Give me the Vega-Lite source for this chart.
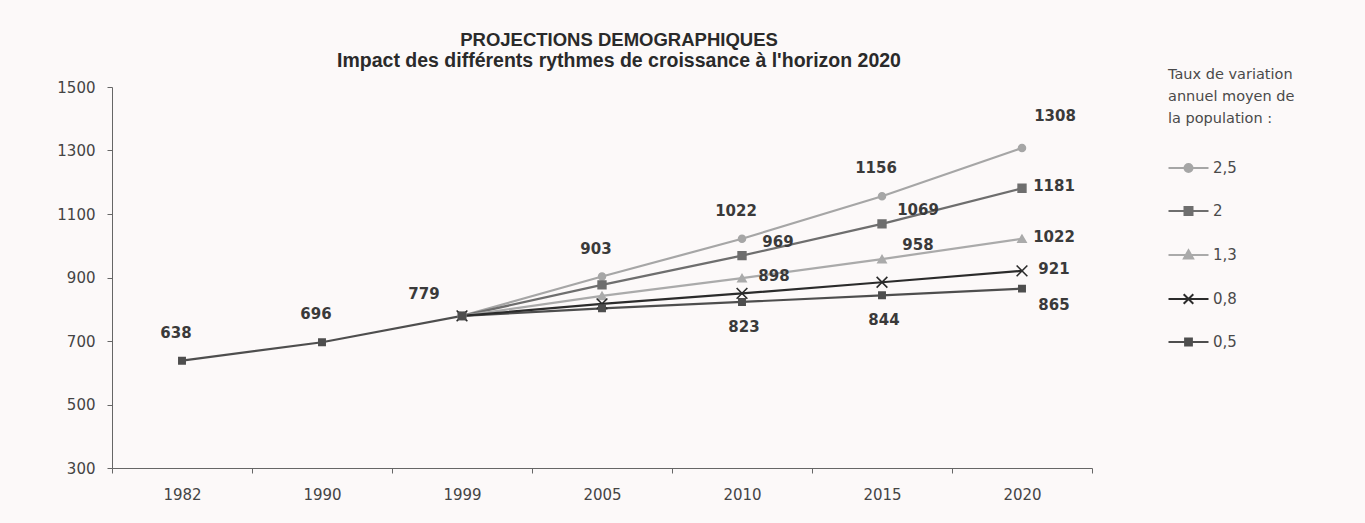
{
  "$schema": "https://vega.github.io/schema/vega-lite/v6.json",
  "autosize": "none",
  "width": 980,
  "height": 381,
  "padding": {"left": 112, "top": 87, "right": 273, "bottom": 55},
  "background": "#fcf9f9",
  "title": {
    "text": "PROJECTIONS DEMOGRAPHIQUES",
    "subtitle": "Impact des différents rythmes de croissance à l'horizon 2020",
    "font": "Liberation Sans",
    "fontSize": 18.5,
    "fontWeight": "bold",
    "subtitleFont": "Liberation Sans",
    "subtitleFontSize": 19.5,
    "subtitleFontWeight": "bold",
    "color": "#2a2a2a",
    "subtitleColor": "#2a2a2a",
    "anchor": "middle",
    "dx": 17,
    "offset": -2,
    "subtitlePadding": 2
  },
  "data": {
    "values": [
      {"annee": 1982, "taux": "0,5", "valeur": 638},
      {"annee": 1990, "taux": "0,5", "valeur": 696},
      {"annee": 1999, "taux": "2,5", "valeur": 779},
      {"annee": 2005, "taux": "2,5", "valeur": 903},
      {"annee": 2010, "taux": "2,5", "valeur": 1022},
      {"annee": 2015, "taux": "2,5", "valeur": 1156},
      {"annee": 2020, "taux": "2,5", "valeur": 1308},
      {"annee": 1999, "taux": "2", "valeur": 779},
      {"annee": 2005, "taux": "2", "valeur": 877},
      {"annee": 2010, "taux": "2", "valeur": 969},
      {"annee": 2015, "taux": "2", "valeur": 1069},
      {"annee": 2020, "taux": "2", "valeur": 1181},
      {"annee": 1999, "taux": "1,3", "valeur": 779},
      {"annee": 2005, "taux": "1,3", "valeur": 842},
      {"annee": 2010, "taux": "1,3", "valeur": 898},
      {"annee": 2015, "taux": "1,3", "valeur": 958},
      {"annee": 2020, "taux": "1,3", "valeur": 1022},
      {"annee": 1999, "taux": "0,8", "valeur": 779},
      {"annee": 2005, "taux": "0,8", "valeur": 817},
      {"annee": 2010, "taux": "0,8", "valeur": 850},
      {"annee": 2015, "taux": "0,8", "valeur": 885},
      {"annee": 2020, "taux": "0,8", "valeur": 921},
      {"annee": 1999, "taux": "0,5", "valeur": 779},
      {"annee": 2005, "taux": "0,5", "valeur": 803},
      {"annee": 2010, "taux": "0,5", "valeur": 823},
      {"annee": 2015, "taux": "0,5", "valeur": 844},
      {"annee": 2020, "taux": "0,5", "valeur": 865}
    ]
  },
  "encoding": {
    "x": {
      "field": "annee",
      "type": "ordinal",
      "bandPosition": 0.5,
      "scale": {"type": "band", "paddingInner": 0, "paddingOuter": 0},
      "axis": {
        "title": null,
        "labelAngle": 0,
        "tickBand": "extent",
        "labelFont": "DejaVu Sans",
        "labelFontSize": 15,
        "labelColor": "#444444",
        "domainColor": "#666666",
        "tickColor": "#666666",
        "tickSize": 5,
        "labelPadding": 14,
        "grid": false
      }
    },
    "y": {
      "field": "valeur",
      "type": "quantitative",
      "scale": {"domain": [300, 1500], "nice": false, "zero": false},
      "axis": {
        "title": null,
        "format": "d",
        "values": [300, 500, 700, 900, 1100, 1300, 1500],
        "labelFont": "DejaVu Sans",
        "labelFontSize": 15,
        "labelColor": "#444444",
        "domainColor": "#666666",
        "tickColor": "#666666",
        "tickSize": 5,
        "labelPadding": 12,
        "grid": false
      }
    }
  },
  "layer": [
    {
      "mark": {"type": "line", "strokeWidth": 2.2},
      "encoding": {
        "color": {
          "field": "taux",
          "type": "nominal",
          "sort": ["2,5", "2", "1,3", "0,8", "0,5"],
          "scale": {
            "domain": ["2,5", "2", "1,3", "0,8", "0,5"],
            "range": ["#a6a6a6", "#6e6e6e", "#aaaaaa", "#2b2b2b", "#4e4e4e"]
          },
          "legend": {
            "orient": "none",
            "legendX": 1056,
            "legendY": -19,
            "padding": 0,
            "title": ["Taux de variation", "annuel moyen de", "la population :"],
            "titleFont": "DejaVu Sans",
            "titleFontSize": 14.5,
            "titleFontWeight": "normal",
            "titleColor": "#4a4a4a",
            "titleLineHeight": 22,
            "titlePadding": 34,
            "labelFont": "DejaVu Sans",
            "labelFontSize": 15,
            "labelColor": "#4a4a4a",
            "symbolSize": 64,
            "symbolStrokeWidth": 2,
            "symbolOffset": 13,
            "labelOffset": 17,
            "rowPadding": 26,
            "encode": {
              "symbols": {
                "update": {
                  "shape": {"signal": "datum.value == '2,5' ? 'M-5,0H5M-1,0A1,1 0 1,0 1,0A1,1 0 1,0 -1,0Z' : datum.value == '2' ? 'M-5,0H5M-1,-1H1V1H-1Z' : datum.value == '1,3' ? 'M-5,0H5M0,-1.2L1.15,0.85H-1.15Z' : datum.value == '0,8' ? 'M-5,0H5M-1.2,-1.2L1.2,1.2M-1.2,1.2L1.2,-1.2' : 'M-5,0H5M-0.85,-0.85H0.85V0.85H-0.85Z'"},
                  "stroke": {"signal": "scale('color', datum.value)"},
                  "fill": {"signal": "scale('color', datum.value)"},
                  "strokeWidth": {"value": 2},
                  "size": {"value": 64},
                  "opacity": {"value": 1}
                }
              }
            }
          }
        }
      }
    },
    {
      "mark": {"type": "point", "filled": true, "strokeWidth": 1.6, "opacity": 1},
      "encoding": {
        "color": {"field": "taux", "type": "nominal", "sort": ["2,5", "2", "1,3", "0,8", "0,5"]},
        "stroke": {
          "field": "taux",
          "type": "nominal",
          "scale": {
            "domain": ["0,5", "0,8", "1,3", "2", "2,5"],
            "range": ["#4e4e4e", "#2b2b2b", "#aaaaaa", "#6e6e6e", "#a6a6a6"]
          },
          "legend": null
        },
        "shape": {
          "field": "taux",
          "type": "nominal",
          "scale": {
            "domain": ["0,5", "0,8", "1,3", "2", "2,5"],
            "range": ["square", "M-1,-1L1,1M-1,1L1,-1", "triangle-up", "square", "circle"]
          },
          "legend": null
        },
        "size": {
          "field": "taux",
          "type": "nominal",
          "scale": {
            "type": "ordinal",
            "domain": ["0,5", "0,8", "1,3", "2", "2,5"],
            "range": [40, 115, 66, 60, 48]
          },
          "legend": null
        }
      }
    },
    {
      "transform": [{"filter": "(datum.taux == '2,5' && datum.annee >= 2005 && datum.annee <= 2015) || (datum.taux == '0,5' && datum.annee <= 1990)"}],
      "mark": {"type": "text", "font": "DejaVu Sans", "fontSize": 15, "fontWeight": "bold", "color": "#3a3a3a", "dx": -6, "dy": -28},
      "encoding": {"text": {"field": "valeur", "type": "quantitative"}}
    },
    {
      "transform": [{"filter": "datum.taux == '0,5' && datum.annee == 1999"}],
      "mark": {"type": "text", "font": "DejaVu Sans", "fontSize": 15, "fontWeight": "bold", "color": "#3a3a3a", "dx": -38, "dy": -22},
      "encoding": {"text": {"field": "valeur", "type": "quantitative"}}
    },
    {
      "transform": [{"filter": "datum.taux == '2,5' && datum.annee == 2020"}],
      "mark": {"type": "text", "font": "DejaVu Sans", "fontSize": 15, "fontWeight": "bold", "color": "#3a3a3a", "dx": 33, "dy": -32},
      "encoding": {"text": {"field": "valeur", "type": "quantitative"}}
    },
    {
      "transform": [{"filter": "(datum.taux == '2' && (datum.annee == 2010 || datum.annee == 2015)) || (datum.taux == '1,3' && datum.annee == 2015)"}],
      "mark": {"type": "text", "font": "DejaVu Sans", "fontSize": 15, "fontWeight": "bold", "color": "#3a3a3a", "dx": 36, "dy": -14},
      "encoding": {"text": {"field": "valeur", "type": "quantitative"}}
    },
    {
      "transform": [{"filter": "(datum.taux == '2' && datum.annee == 2020) || (datum.taux == '1,3' && (datum.annee == 2010 || datum.annee == 2020)) || (datum.taux == '0,8' && datum.annee == 2020)"}],
      "mark": {"type": "text", "font": "DejaVu Sans", "fontSize": 15, "fontWeight": "bold", "color": "#3a3a3a", "dx": 32, "dy": -2},
      "encoding": {"text": {"field": "valeur", "type": "quantitative"}}
    },
    {
      "transform": [{"filter": "datum.taux == '0,5' && datum.annee == 2020"}],
      "mark": {"type": "text", "font": "DejaVu Sans", "fontSize": 15, "fontWeight": "bold", "color": "#3a3a3a", "dx": 32, "dy": 16},
      "encoding": {"text": {"field": "valeur", "type": "quantitative"}}
    },
    {
      "transform": [{"filter": "datum.taux == '0,5' && (datum.annee == 2010 || datum.annee == 2015)"}],
      "mark": {"type": "text", "font": "DejaVu Sans", "fontSize": 15, "fontWeight": "bold", "color": "#3a3a3a", "dx": 2, "dy": 25},
      "encoding": {"text": {"field": "valeur", "type": "quantitative"}}
    }
  ],
  "config": {
    "view": {"stroke": null}
  }
}
